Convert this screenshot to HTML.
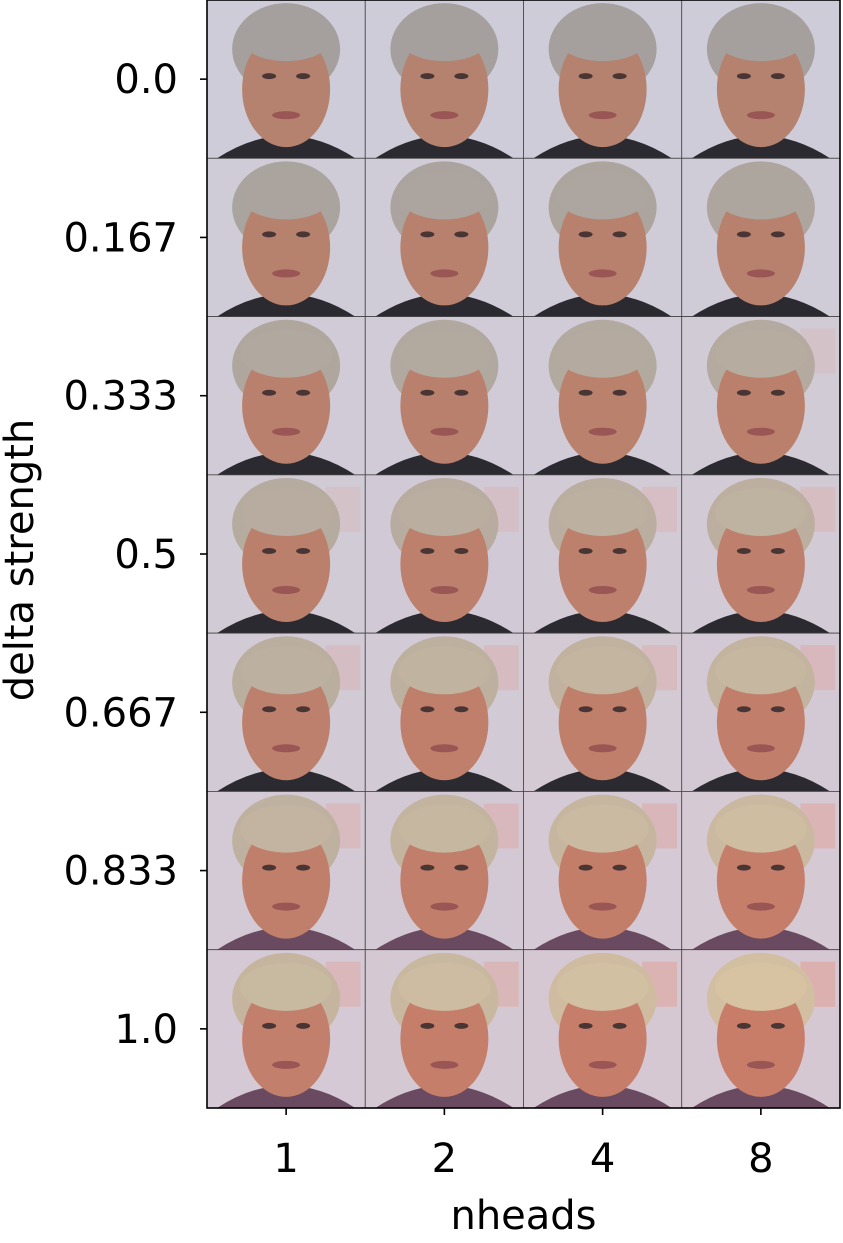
<!DOCTYPE html>
<html><head><meta charset="utf-8"><style>
body{margin:0;background:#fff;}
svg text{font-family:"DejaVu Sans","Liberation Sans",sans-serif;fill:#000;}
</style></head><body>
<svg id="chart" width="843" height="1238" viewBox="0 0 843 1238" xmlns="http://www.w3.org/2000/svg">
<g id="cells"></g>
<g id="axes"></g>
</svg>
<script>
const columns = ["1","2","4","8"];
const rows = ["0.0","0.167","0.333","0.5","0.667","0.833","1.0"];
const hairTone = [0.0,0.167,0.333,0.5,0.667,0.833,1.0];

const NS="http://www.w3.org/2000/svg";
const L=207,R=840,T=0,B=1108;
const cw=(R-L)/columns.length, ch=(B-T)/rows.length;
const xc=i=>L+cw*(i+0.5), yc=j=>T+ch*(j+0.5);
function mk(tag,attrs,parent){const e=document.createElementNS(NS,tag);for(const k in attrs)e.setAttribute(k,attrs[k]);parent.appendChild(e);return e;}
function mix(a,b,t){return 'rgb('+a.map((v,i)=>Math.round(v+(b[i]-v)*t)).join(',')+')';}
const cells=document.getElementById('cells'), axes=document.getElementById('axes');
rows.forEach((r,j)=>{columns.forEach((c,i)=>{
  const t=Math.min(1,hairTone[j]*(0.7+0.1*i));
  const g=mk('g',{},cells);
  
  
  const x0=xc(i)-cw/2,y0=yc(j)-ch/2,cx=xc(i),cy=yc(j);
  mk('rect',{x:x0,y:y0,width:cw,height:ch,fill:mix([206,204,216],[214,200,210],t),stroke:'#444','stroke-width':0.8},g);
  if(t>0.3) mk('rect',{x:x0+cw*0.75,y:y0+12,width:cw*0.22,height:45,fill:'#e0a098',opacity:t*0.6},g);
  mk('path',{d:`M${x0+10} ${y0+ch} Q${cx} ${y0+ch-45} ${x0+cw-10} ${y0+ch} Z`,fill:j<5?'#2a2a30':'#6a4a60'},g);
  mk('ellipse',{cx:cx,cy:cy-30,rx:54,ry:46,fill:mix([165,160,158],[210,190,160],t)},g);
  mk('ellipse',{cx:cx,cy:cy+10,rx:44,ry:58,fill:mix([180,130,110],[200,125,105],t)},g);
  mk('ellipse',{cx:cx,cy:cy-42,rx:46,ry:24,fill:mix([165,160,158],[215,195,162],t)},g);
  mk('ellipse',{cx:cx-17,cy:cy-3,rx:7,ry:3,fill:'#4a3535'},g);
  mk('ellipse',{cx:cx+17,cy:cy-3,rx:7,ry:3,fill:'#4a3535'},g);
  mk('ellipse',{cx:cx,cy:cy+36,rx:14,ry:4,fill:'#9a5555'},g);
});});
mk('rect',{x:L,y:T,width:R-L,height:B-T,fill:'none',stroke:'#000','stroke-width':1.6},axes);
rows.forEach((r,j)=>{
  const tk=mk('line',{x1:L-7,x2:L,y1:yc(j),y2:yc(j),stroke:'#000','stroke-width':1.6},axes);
  
  const tx=mk('text',{x:178,y:yc(j)+14,'font-size':40,'text-anchor':'end'},axes);
  
  tx.textContent=r;
});
columns.forEach((c,i)=>{
  const tk=mk('line',{x1:xc(i),x2:xc(i),y1:B,y2:B+7,stroke:'#000','stroke-width':1.6},axes);
  
  const tx=mk('text',{x:xc(i),y:1172,'font-size':40,'text-anchor':'middle'},axes);
  
  tx.textContent=c;
});
const xt=mk('text',{x:(L+R)/2,y:1229,'font-size':40,'text-anchor':'middle'},axes);

xt.textContent='nheads';
const yt=mk('text',{x:0,y:0,'font-size':40,'text-anchor':'middle',transform:`translate(33,${(T+B)/2+6}) rotate(-90)`},axes);

yt.textContent='delta strength';
</script>
</body></html>
